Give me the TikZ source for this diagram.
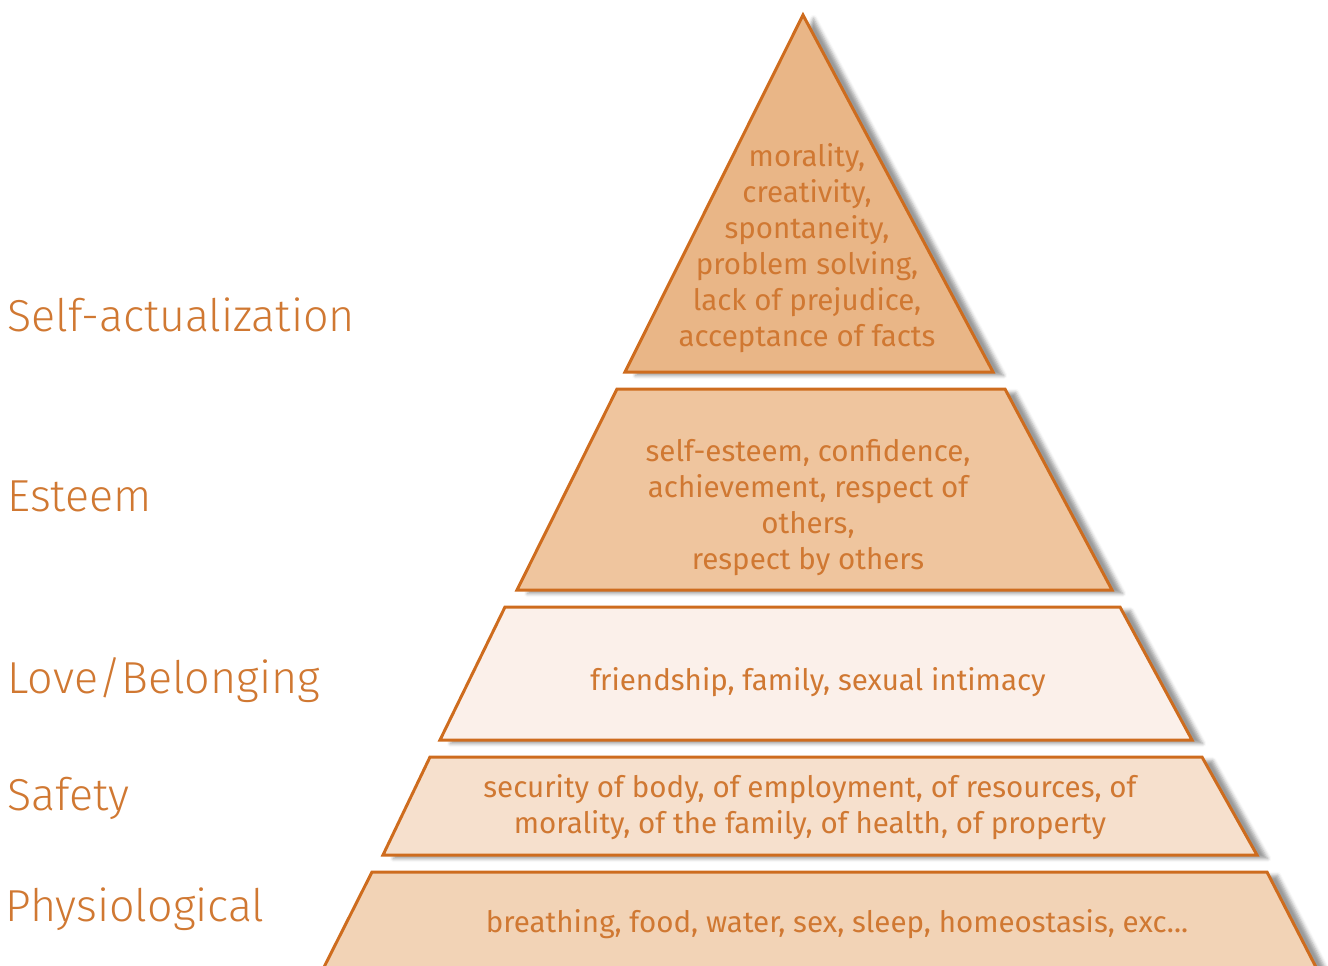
\documentclass[tikz,border=0pt]{standalone}
\usepackage{fontspec}
\setmainfont{Fira Sans}
\newfontfamily\lightfont{Fira Sans Light}
\usetikzlibrary{shadows.blur}

\definecolor{rim}{HTML}{CE6C1E}
\definecolor{ink}{HTML}{D07832}
\definecolor{topfill}{HTML}{E9B687}
\definecolor{esteemfill}{HTML}{EFC59E}
\definecolor{lovefill}{HTML}{FBF0EA}
\definecolor{safetyfill}{HTML}{F6E0CD}
\definecolor{bodyfill}{HTML}{F2D3B6}

\begin{document}
\begin{tikzpicture}[
            x = 0.02cm, % one unit per pixel
            y = -0.02cm, % y runs downwards
            line join = miter
        ]

        \tikzstyle{levelbox}=[
            draw = rim,
            line width = 1.7pt,
            blur shadow = {shadow xshift = 6pt, shadow yshift = -2pt, shadow opacity = 40}
        ]
        \tikzstyle{needtext}=[
            text = ink,
            align = center,
            font = \fontsize{16.8}{20.5}\selectfont
        ]
        \tikzstyle{levelname}=[
            text = ink,
            anchor = west,
            inner sep = 0pt,
            font = \lightfont\fontsize{25.5}{30}\selectfont
        ]

        \useasboundingbox (0,0) rectangle (1328,965);

        % pyramid levels
        \path[levelbox, fill = topfill] (803,15) -- (993,372) -- (625,372) -- cycle;
        \path[levelbox, fill = esteemfill] (617,389) -- (1005,389) -- (1112,590) -- (517,590) -- cycle;
        \path[levelbox, fill = lovefill] (505,607) -- (1120,607) -- (1192,740) -- (440,740) -- cycle;
        \path[levelbox, fill = safetyfill] (430,757) -- (1202,757) -- (1257,855) -- (383,855) -- cycle;
        \path[levelbox, fill = bodyfill] (372,872) -- (1267,872) -- (1320,975) -- (320,975) -- cycle;

        % needs
        \node[needtext] (top) at (807,248) {morality,\\creativity,\\spontaneity,\\problem solving,\\lack of prejudice,\\acceptance of facts};
        \node[needtext] (esteem) at (808,508) {self-esteem, confidence,\\achievement, respect of\\others,\\respect by others};
        \node[needtext] (love) at (818,682) {friendship, family, sexual intimacy};
        \node[needtext] (safety) at (810,807) {security of body, of employment, of resources, of\\morality, of the family, of health, of property};
        \node[needtext] (body) at (837,924) {breathing, food, water, sex, sleep, homeostasis, exc...};

        % level names
        \node[levelname] (selfact) at (7,315) {Self-actualization};
        \node[levelname] (esteemname) at (7,496) {Esteem};
        \node[levelname] (lovename) at (7,680) {Love/Belonging};
        \node[levelname] (safetyname) at (7,798) {Safety};
        \node[levelname] (bodyname) at (5,909) {Physiological};

  \end{tikzpicture}
\end{document}
